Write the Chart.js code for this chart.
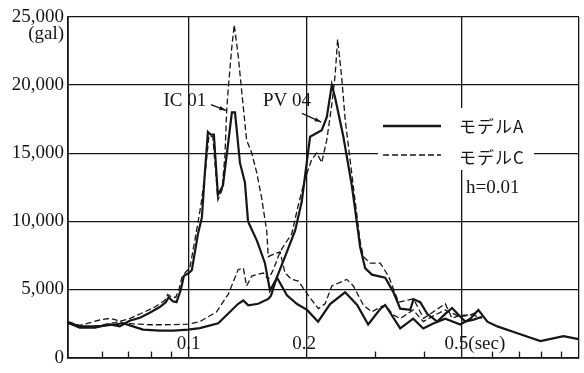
<!DOCTYPE html>
<html>
<head>
<meta charset="utf-8">
<script src="https://cdn.jsdelivr.net/npm/chart.js@4"></script>
<style>
  html, body { margin: 0; padding: 0; background: #fff; }
  canvas { display: block; }
</style>
</head>
<body>
<canvas id="chart" width="584" height="373"></canvas>
<script>
// period (sec) and response (gal)
const icA_T = [0.049, 0.0525, 0.0574, 0.0627, 0.0665, 0.0705, 0.0749, 0.0794, 0.0842, 0.0873,
  0.0888, 0.0909, 0.093, 0.0954, 0.0971, 0.1, 0.1018, 0.1055, 0.108, 0.1099,
  0.1119, 0.1139, 0.1159, 0.1187, 0.1223, 0.1252, 0.1289, 0.1313, 0.1352, 0.1392,
  0.1418, 0.1495, 0.1567, 0.1614, 0.1683, 0.1784, 0.1894, 0.2009, 0.2144, 0.2301,
  0.2515, 0.27, 0.2881, 0.3093, 0.3186, 0.3481, 0.3759, 0.3989, 0.4231, 0.4542,
  0.4964, 0.5266, 0.5521, 0.5822, 0.6176, 0.6952, 0.7964, 0.9125, 0.997];
const icA_gal = [2550, 2200, 2200, 2430, 2290, 2710, 2930, 3290, 3710, 4070,
  4430, 4140, 4070, 5000, 6000, 6210, 6430, 9070, 10290, 13570,
  16570, 16360, 16360, 11930, 12640, 15000, 18000, 18000, 14290, 12860,
  10000, 8570, 6930, 4930, 5860, 4570, 3930, 3500, 2640, 3930,
  4790, 3860, 2430, 3570, 3860, 2140, 2860, 2140, 2500, 2860,
  2430, 2860, 3500, 2640, 2290, 1790, 1210, 1570, 1360];

const icC_T = [0.049, 0.0541, 0.0591, 0.0646, 0.0705, 0.0771, 0.0818, 0.0868, 0.0883, 0.0904,
  0.0926, 0.0943, 0.0959, 0.0982, 0.1006, 0.1048, 0.1074, 0.1106, 0.1126, 0.1152,
  0.1187, 0.1216, 0.1237, 0.125, 0.1262, 0.1287, 0.1307, 0.1338, 0.1366, 0.1406,
  0.1449, 0.1492, 0.1537, 0.1583, 0.1598, 0.1663, 0.1713, 0.1764, 0.1835, 0.1908,
  0.2025, 0.2148, 0.2235, 0.2325, 0.254, 0.2641, 0.2803, 0.2945, 0.3093, 0.3186,
  0.334, 0.348, 0.3759, 0.399, 0.428, 0.454, 0.496, 0.527, 0.552];
const icC_gal = [2640, 2200, 2360, 2570, 2860, 3360, 3710, 4210, 4640, 4430,
  4430, 5000, 5860, 6290, 6570, 9430, 11210, 14070, 16300, 16200,
  11570, 12290, 14790, 18120, 19790, 22640, 24430, 22160, 19550, 15980,
  15020, 13590, 11690, 9310, 7410, 7640, 7760, 6210, 5740, 5620,
  4550, 3590, 3950, 5260, 5740, 5260, 3840, 3360, 3710, 3860,
  3140, 2860, 3500, 2640, 3140, 3500, 3000, 3140, 3360];

const pvA_T = [0.049, 0.0525, 0.058, 0.0639, 0.0678, 0.0719, 0.0763, 0.0842, 0.0912, 0.0996,
  0.1067, 0.1189, 0.1262, 0.1338, 0.1379, 0.142, 0.1506, 0.1598, 0.1624, 0.1679,
  0.1764, 0.1872, 0.1947, 0.2005, 0.2045, 0.2191, 0.2257, 0.2325, 0.2371, 0.2489,
  0.2616, 0.2668, 0.2748, 0.283, 0.2945, 0.3186, 0.3346, 0.3481, 0.3693, 0.3766,
  0.3918, 0.4083, 0.4332, 0.4542, 0.4727, 0.4964, 0.5111, 0.537, 0.5643];
const pvA_gal = [2590, 2290, 2290, 2410, 2520, 2290, 2050, 1980, 1980, 2050,
  2160, 2520, 3240, 3950, 4190, 3840, 3950, 4310, 4550, 5860,
  7410, 9310, 11450, 14310, 16210, 16690, 17640, 20020, 19070, 16210,
  12640, 10860, 8120, 6570, 6090, 5860, 4790, 3590, 3500, 4290,
  4070, 3210, 2640, 3210, 3640, 3000, 2640, 2790, 3000];

const pvC_T = [0.049, 0.0525, 0.0591, 0.0627, 0.0665, 0.0678, 0.0749, 0.0794, 0.0868, 0.0996,
  0.1067, 0.1178, 0.1262, 0.1338, 0.1379, 0.1406, 0.1449, 0.1492, 0.1552, 0.1598,
  0.1646, 0.1713, 0.1764, 0.1835, 0.1908, 0.1985, 0.2065, 0.2128, 0.2191, 0.2257,
  0.2325, 0.2371, 0.2406, 0.2466, 0.2515, 0.259, 0.2668, 0.2748, 0.2803, 0.2915,
  0.3093, 0.3249, 0.3447, 0.3766, 0.3995, 0.4542, 0.4727, 0.4964, 0.537, 0.5643];
const pvC_gal = [2520, 2360, 2760, 2880, 2690, 2520, 2450, 2410, 2410, 2450,
  2640, 3360, 4660, 6450, 6570, 5260, 5980, 6090, 6210, 5740,
  6450, 7760, 8360, 9070, 11210, 13120, 14550, 15020, 14310, 15980,
  18590, 20740, 23360, 20500, 17500, 14500, 11500, 8500, 7410, 6930,
  6930, 5980, 4070, 4310, 2880, 3950, 2880, 3120, 3120, 2880];

const xMajorTicks = [0.1, 0.2, 0.5, 1.0];
const xMinorTicks = [0.06, 0.07, 0.08, 0.09, 0.3, 0.4, 0.6, 0.7, 0.8, 0.9];
const xLabelValues = [0.1, 0.2, 0.5];
const xTickLabels = ['0.1', '0.2', '0.5(sec)'];
const yUnit = '(gal)';
const legendNames = ['モデルA', 'モデルC'];
const dampingNote = 'h=0.01';
const quakeNames = ['IC 01', 'PV 04'];
const quakeNameAt = [[0.0977, 18860], [0.1784, 18860]];
const quakeArrows = [[[0.1139, 18570], [0.1245, 18140]], [[0.1949, 17930], [0.2184, 17290]]];

const INK = '#161616';
const serif = '"Liberation Serif", "DejaVu Serif", serif';
// the printed labels drift left of their grid line a little more each time
const xLabelNudge = [-12, -14, -17];

function pts(T, g) {
  return T.map((t, i) => ({ x: t, y: g[i] }));
}

const solid = { borderColor: INK, borderWidth: 2.2, pointRadius: 0, tension: 0, fill: false };
const dashed = { borderColor: INK, borderWidth: 1.3, borderDash: [6, 3], pointRadius: 0, tension: 0, fill: false };

const extras = {
  id: 'extras',
  afterDraw(chart) {
    const { ctx, chartArea: a, scales: { x, y } } = chart;
    ctx.save();
    ctx.strokeStyle = INK;
    ctx.fillStyle = INK;

    // short inward ticks on the period axis
    ctx.lineWidth = 1.3;
    xMinorTicks.forEach(v => {
      const px = Math.round(x.getPixelForValue(v)) + 0.5;
      ctx.beginPath();
      ctx.moveTo(px, a.bottom);
      ctx.lineTo(px, a.bottom - 6);
      ctx.stroke();
    });

    // period labels sit inside the frame
    ctx.font = '19px ' + serif;
    ctx.textAlign = 'left';
    ctx.textBaseline = 'alphabetic';
    xLabelValues.forEach((v, i) => {
      ctx.fillText(xTickLabels[i], x.getPixelForValue(v) + xLabelNudge[i], a.bottom - 9);
    });

    // unit under the top tick
    ctx.textAlign = 'right';
    ctx.textBaseline = 'middle';
    ctx.fillText(yUnit, a.left - 4, y.getPixelForValue(25000) + 17);

    // earthquake names and arrows
    ctx.textAlign = 'center';
    quakeNames.forEach((name, i) => {
      ctx.fillText(name, x.getPixelForValue(quakeNameAt[i][0]), y.getPixelForValue(quakeNameAt[i][1]));
      const [p0, p1] = quakeArrows[i];
      const x0 = x.getPixelForValue(p0[0]), y0 = y.getPixelForValue(p0[1]);
      const x1 = x.getPixelForValue(p1[0]), y1 = y.getPixelForValue(p1[1]);
      ctx.lineWidth = 1.3;
      ctx.beginPath();
      ctx.moveTo(x0, y0);
      ctx.lineTo(x1, y1);
      ctx.stroke();
      const ang = Math.atan2(y1 - y0, x1 - x0);
      ctx.beginPath();
      ctx.moveTo(x1, y1);
      ctx.lineTo(x1 - 7 * Math.cos(ang - 0.3), y1 - 7 * Math.sin(ang - 0.3));
      ctx.lineTo(x1 - 7 * Math.cos(ang + 0.3), y1 - 7 * Math.sin(ang + 0.3));
      ctx.closePath();
      ctx.fill();
    });

    // legend box
    ctx.fillStyle = '#fff';
    ctx.fillRect(378, 108, 156, 62);
    ctx.fillStyle = INK;
    ctx.lineWidth = 2.5;
    ctx.beginPath();
    ctx.moveTo(383, 126);
    ctx.lineTo(441, 126);
    ctx.stroke();
    ctx.lineWidth = 1.4;
    ctx.setLineDash([6, 3]);
    ctx.beginPath();
    ctx.moveTo(383, 155);
    ctx.lineTo(441, 155);
    ctx.stroke();
    ctx.setLineDash([]);
    ctx.textAlign = 'left';
    ctx.font = '17px "Noto Sans CJK JP"';
    ctx.letterSpacing = '1px';
    ctx.fillText(legendNames[0], 459, 127);
    ctx.fillText(legendNames[1], 459, 158);
    ctx.letterSpacing = '0px';
    ctx.font = '19px ' + serif;
    ctx.fillText(dampingNote, 466, 188);
    ctx.restore();
  }
};

new Chart(document.getElementById('chart'), {
  type: 'line',
  data: {
    datasets: [
      Object.assign({ label: 'IC 01 モデルA', data: pts(icA_T, icA_gal) }, solid),
      Object.assign({ label: 'IC 01 モデルC', data: pts(icC_T, icC_gal) }, dashed),
      Object.assign({ label: 'PV 04 モデルA', data: pts(pvA_T, pvA_gal) }, solid),
      Object.assign({ label: 'PV 04 モデルC', data: pts(pvC_T, pvC_gal) }, dashed)
    ]
  },
  options: {
    responsive: false,
    animation: false,
    devicePixelRatio: 1,
    layout: { padding: { top: 17, right: 5, left: 0, bottom: 0 } },
    plugins: { legend: { display: false }, tooltip: { enabled: false } },
    scales: {
      x: {
        type: 'logarithmic',
        min: 0.049,
        max: 1.0,
        afterBuildTicks: s => { s.ticks = xMajorTicks.map(v => ({ value: v })); },
        afterFit: s => { s.height = 6; },
        ticks: { display: false },
        grid: { color: INK, lineWidth: 1.3, drawTicks: false },
        border: { color: INK, width: 1.8 }
      },
      y: {
        min: 0,
        max: 25000,
        afterFit: s => { s.width = 68; },
        ticks: {
          stepSize: 5000,
          padding: 4,
          color: INK,
          font: { family: serif, size: 19 },
          callback: v => v.toLocaleString('en-US')
        },
        grid: { color: INK, lineWidth: 1.3, drawTicks: false },
        border: { color: INK, width: 1.8 }
      }
    }
  },
  plugins: [extras]
});
</script>
</body>
</html>
